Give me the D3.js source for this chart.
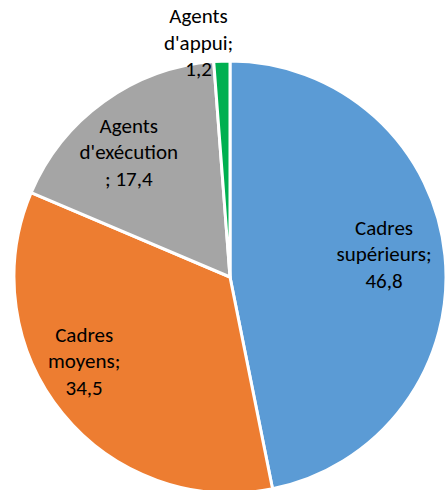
<!DOCTYPE html>
<html>
<head>
<meta charset="utf-8">
<script src="https://cdn.jsdelivr.net/npm/d3@7"></script>
<style>
	html, body { margin: 0; padding: 0; background: #fff; }
	svg { display: block; }
	.slice-label { font-family: Calibri, Carlito, Lato, sans-serif; font-size: 21px; fill: #000; }
</style>
</head>
<body>
<svg id="chart-svg" width="446" height="490"></svg>
<script>
// categories, values and label lines
const categories = ['Cadres supérieurs', 'Cadres moyens', "Agents d'exécution", "Agents d'appui"];
const values = [46.8, 34.5, 17.4, 1.2];
const labelLines = [
	['Cadres', 'supérieurs;', '46,8'],
	['Cadres', 'moyens;', '34,5'],
	['Agents', "d'exécution", '; 17,4'],
	['Agents', "d'appui;", '1,2']
];
const colors = ['#5B9BD5', '#ED7D31', '#A5A5A5', '#00B050'];

const CX = 230;
const CY = 277;
const RADIUS = 216;
const LINE_HEIGHT = 26.5;

// "best fit" nudges from the computed label spot, like Excel does it
const labelNudge = [[-5, -7], [-22, -17], [-8, 5], [0, 0]];

let svg = d3.select('#chart-svg');

const data = categories.map((c, i) => ({ name: c, value: values[i], lines: labelLines[i], color: colors[i], nudge: labelNudge[i] }));

let pie = d3.pie().sort(null).value((d) => d.value);
let arcs = pie(data);

let arcGen = d3.arc().innerRadius(0).outerRadius(RADIUS);

let g = svg.append('g').attr('transform', 'translate(' + CX + ',' + CY + ')');

// Slices
g
	.selectAll('path')
	.data(arcs)
	.enter()
	.append('path')
	.attr('d', arcGen)
	.attr('fill', (d) => d.data.color)
	.attr('stroke', '#fff')
	.attr('stroke-width', 3)
	.attr('stroke-linejoin', 'round');

// Labels: inside for big slices, outside for tiny ones
let insideArc = d3.arc().innerRadius(RADIUS * 0.74).outerRadius(RADIUS * 0.74);
let outsideArc = d3.arc().innerRadius(RADIUS * 1.085).outerRadius(RADIUS * 1.085);

arcs.forEach((a) => {
	let share = (a.endAngle - a.startAngle) / (2 * Math.PI);
	let outside = share < 0.05;
	let [x, y] = outside ? outsideArc.centroid(a) : insideArc.centroid(a);
	x += a.data.nudge[0];
	y += a.data.nudge[1];

	let text = g
		.append('text')
		.attr('class', 'slice-label')
		.attr('text-anchor', 'middle')
		.attr('dominant-baseline', 'central');

	let n = a.data.lines.length;
	a.data.lines.forEach((line, i) => {
		text
			.append('tspan')
			.attr('x', x)
			.attr('y', y + (i - (n - 1) / 2) * LINE_HEIGHT)
			.text(line);
	});

	if (outside) {
		// keep the label box next to the slice edge
		let boxWidth = text.node().getBBox().width;
		let mid = (a.startAngle + a.endAngle) / 2;
		let shift = Math.sin(mid) < 0 ? 12 - boxWidth / 2 : boxWidth / 2 - 12;
		text.selectAll('tspan').attr('x', x + shift);
	}
});
</script>
</body>
</html>
